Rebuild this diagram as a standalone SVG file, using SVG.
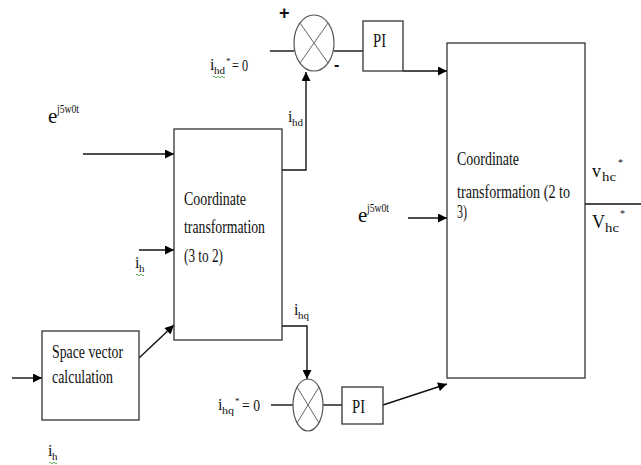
<svg xmlns="http://www.w3.org/2000/svg" width="641" height="465" viewBox="0 0 641 465">
<style>
text{font-family:'Liberation Serif','Times New Roman',serif;fill:#111;}
.t{font-size:18px;}
.box{fill:#fff;stroke:#333;stroke-width:1.3;}
.ln{fill:none;stroke:#111;stroke-width:1.4;}
.sum{fill:#fff;stroke:#555;stroke-width:1.2;}
.x{stroke:#666;stroke-width:1;}
.sq{fill:none;stroke:#3a9a3a;stroke-width:0.8;}
.pm{font-family:'Liberation Sans',Arial,sans-serif;font-weight:bold;}
</style>
<defs>
<marker id="ah" viewBox="0 0 10 10" refX="10" refY="5" markerWidth="10" markerHeight="9" markerUnits="userSpaceOnUse" orient="auto">
<path d="M0,0 L10,5 L0,10 Z" fill="#000"/>
</marker>
</defs>
<rect width="641" height="465" fill="#fff"/>

<g id="connectors">
<line class="ln" x1="83" y1="154" x2="174" y2="154" marker-end="url(#ah)"/>
<line class="ln" x1="139" y1="250" x2="174" y2="250" marker-end="url(#ah)"/>
<line class="ln" x1="12" y1="378" x2="42" y2="378" marker-end="url(#ah)"/>
<line class="ln" x1="139" y1="358" x2="174" y2="325" marker-end="url(#ah)"/>
<polyline class="ln" points="282,170 306,170 306,72" marker-end="url(#ah)"/>
<line class="ln" x1="270" y1="51" x2="294" y2="51"/>
<line class="ln" x1="334" y1="51" x2="363" y2="51"/>
<line class="ln" x1="403" y1="71" x2="447" y2="71" marker-end="url(#ah)"/>
<polyline class="ln" points="282,326 307,326 307,379" marker-end="url(#ah)"/>
<line class="ln" x1="271" y1="405" x2="293" y2="405"/>
<line class="ln" x1="323" y1="405" x2="342" y2="405"/>
<line class="ln" x1="383" y1="405" x2="447" y2="384" marker-end="url(#ah)"/>
<line class="ln" x1="408" y1="218" x2="447" y2="218" marker-end="url(#ah)"/>
<line class="ln" x1="585" y1="204" x2="641" y2="204"/>
</g>

<g id="coord32">
<rect class="box" x="174" y="129" width="108" height="211"/>
<text class="t" x="184" y="205" textLength="62" lengthAdjust="spacingAndGlyphs">Coordinate</text>
<text class="t" x="184" y="233" textLength="81" lengthAdjust="spacingAndGlyphs">transformation</text>
<text class="t" x="184" y="262" textLength="39" lengthAdjust="spacingAndGlyphs">(3 to 2)</text>
</g>

<g id="spacevector">
<rect class="box" x="42" y="331" width="97" height="89"/>
<text class="t" x="52" y="358" textLength="71" lengthAdjust="spacingAndGlyphs">Space vector</text>
<text class="t" x="52" y="383" textLength="61" lengthAdjust="spacingAndGlyphs">calculation</text>
</g>

<g id="coord23">
<rect class="box" x="447" y="43" width="138" height="335"/>
<text class="t" x="457" y="165" textLength="62" lengthAdjust="spacingAndGlyphs">Coordinate</text>
<text class="t" x="457" y="198" textLength="113" lengthAdjust="spacingAndGlyphs">transformation (2 to</text>
<text class="t" x="457" y="218" textLength="10" lengthAdjust="spacingAndGlyphs">3)</text>
</g>

<g id="sum1">
<ellipse class="sum" cx="314" cy="43" rx="20" ry="28"/>
<line class="x" x1="300" y1="23" x2="328" y2="63"/>
<line class="x" x1="328" y1="23" x2="300" y2="63"/>
<text class="pm" x="279" y="19" font-size="18">+</text>
<text class="pm" x="334" y="70" font-size="16">-</text>
</g>

<g id="pi1">
<rect class="box" x="363" y="21" width="40" height="50"/>
<text class="t" x="373" y="47" textLength="13" lengthAdjust="spacingAndGlyphs">PI</text>
</g>

<g id="sum2">
<ellipse class="sum" cx="308" cy="405" rx="15" ry="26"/>
<line class="x" x1="297" y1="387" x2="319" y2="423"/>
<line class="x" x1="319" y1="387" x2="297" y2="423"/>
</g>

<g id="pi2">
<rect class="box" x="342" y="387" width="41" height="37"/>
<text class="t" x="352" y="413" textLength="13" lengthAdjust="spacingAndGlyphs">PI</text>
</g>

<g id="labels">
<text font-size="21"><tspan x="48" y="123">e</tspan><tspan x="57" y="113" font-size="12" textLength="22" lengthAdjust="spacingAndGlyphs">j5w0t</tspan></text>
<text font-size="21"><tspan x="358" y="222">e</tspan><tspan x="367" y="212" font-size="12" textLength="22" lengthAdjust="spacingAndGlyphs">j5w0t</tspan></text>
<text font-size="16"><tspan x="135" y="268">i</tspan><tspan x="139" y="272" font-size="11">h</tspan></text>
<path class="sq" d="M136,275 q1,-2 2,0 t2,0 t2,0 t2,0"/>
<text font-size="16"><tspan x="48" y="456">i</tspan><tspan x="52" y="460" font-size="11">h</tspan></text>
<path class="sq" d="M49,463 q1,-2 2,0 t2,0 t2,0 t2,0"/>
<text font-size="16"><tspan x="288" y="122">i</tspan><tspan x="292" y="126" font-size="11">hd</tspan></text>
<text font-size="16"><tspan x="294" y="315">i</tspan><tspan x="298" y="319" font-size="11">hq</tspan></text>
<text font-size="16"><tspan x="210" y="70">i</tspan><tspan x="214" y="74" font-size="11" textLength="11" lengthAdjust="spacingAndGlyphs">hd</tspan><tspan x="226" y="64" font-size="9">*</tspan><tspan x="232" y="71" textLength="16" lengthAdjust="spacingAndGlyphs">= 0</tspan></text>
<path class="sq" d="M213,77 q1,-2 2,0 t2,0 t2,0 t2,0 t2,0 t2,0"/>
<text font-size="16"><tspan x="218" y="410">i</tspan><tspan x="222" y="414" font-size="11" textLength="12" lengthAdjust="spacingAndGlyphs">hq</tspan><tspan x="235" y="404" font-size="9">*</tspan><tspan x="242" y="411" textLength="18" lengthAdjust="spacingAndGlyphs">= 0</tspan></text>
<text font-size="18"><tspan x="592" y="177">v</tspan><tspan x="602" y="181" font-size="12" textLength="14" lengthAdjust="spacingAndGlyphs">hc</tspan><tspan x="618" y="166" font-size="10">*</tspan></text>
<text font-size="18"><tspan x="592" y="228">V</tspan><tspan x="605" y="232" font-size="12" textLength="14" lengthAdjust="spacingAndGlyphs">hc</tspan><tspan x="620" y="217" font-size="10">*</tspan></text>
</g>
</svg>
